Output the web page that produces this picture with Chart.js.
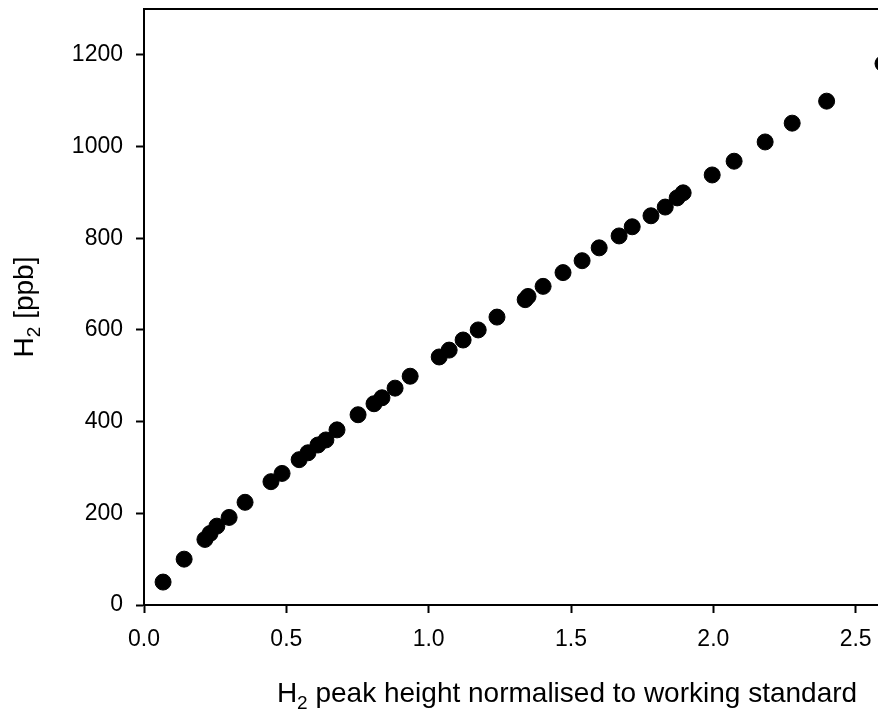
<!DOCTYPE html>
<html>
<head>
<meta charset="utf-8">
<script src="https://cdn.jsdelivr.net/npm/chart.js@4.4.1/dist/chart.umd.min.js"></script>
<style>
  html, body { margin: 0; padding: 0; overflow: hidden; background: #fff; }
  #wrap { width: 1100px; height: 709px; }
</style>
</head>
<body>
<div id="wrap"><canvas id="chart" width="1100" height="709"></canvas></div>
<script>
// normalised H2 peak height vs. H2 mixing ratio
const peakHeight = [
  0.067, 0.141, 0.214, 0.232, 0.256, 0.299, 0.355, 0.446, 0.485, 0.545,
  0.576, 0.611, 0.639, 0.678, 0.752, 0.808, 0.836, 0.882, 0.935, 1.037,
  1.072, 1.121, 1.174, 1.240, 1.339, 1.349, 1.402, 1.472, 1.539, 1.599,
  1.669, 1.715, 1.781, 1.831, 1.873, 1.894, 1.996, 2.073, 2.182, 2.277,
  2.398, 2.596
];
const h2ppb = [
  50, 100, 143, 156, 172, 191, 224, 269, 287, 317,
  332, 349, 360, 382, 415, 439, 452, 473, 499, 541,
  556, 578, 600, 628, 666, 673, 695, 725, 751, 779,
  805, 825, 849, 868, 888, 899, 938, 968, 1010, 1051,
  1099, 1181
];
const xTitleRest = ' peak height normalised to working standard';
const yTitleRest = ' [ppb]';

const FONT = '"Liberation Sans", Arial, sans-serif';

// draws top frame line and the two axis titles (with subscript 2)
const framePlugin = {
  id: 'frame',
  afterDraw(chart) {
    const ctx = chart.ctx;
    const a = chart.chartArea;
    ctx.save();
    ctx.strokeStyle = '#000';
    ctx.lineWidth = 2;
    ctx.beginPath();
    ctx.moveTo(a.left - 1, a.top);
    ctx.lineTo(a.right, a.top);
    ctx.stroke();

    const drawTitle = (rest) => {
      ctx.font = '28px ' + FONT;
      const wH = ctx.measureText('H').width;
      const wRest = ctx.measureText(rest).width;
      ctx.font = '19px ' + FONT;
      const wSub = ctx.measureText('2').width;
      const total = wH + wSub + wRest;
      let x = -total / 2;
      ctx.textBaseline = 'alphabetic';
      ctx.textAlign = 'left';
      ctx.font = '28px ' + FONT;
      ctx.fillText('H', x, 0);
      x += wH;
      ctx.font = '19px ' + FONT;
      ctx.fillText('2', x, 7);
      x += wSub;
      ctx.font = '28px ' + FONT;
      ctx.fillText(rest, x, 0);
    };

    ctx.fillStyle = '#000';
    ctx.save();
    ctx.translate((a.left + a.right) / 2 - 4, 702);
    drawTitle(xTitleRest);
    ctx.restore();

    ctx.save();
    ctx.translate(33, (a.top + a.bottom) / 2);
    ctx.rotate(-Math.PI / 2);
    drawTitle(yTitleRest);
    ctx.restore();
    ctx.restore();
  }
};

new Chart(document.getElementById('chart'), {
  type: 'scatter',
  data: {
    datasets: [{
      data: peakHeight.map((x, i) => ({ x: x, y: h2ppb[i] })),
      backgroundColor: '#000',
      borderColor: '#000',
      pointRadius: 8,
      pointHoverRadius: 8
    }]
  },
  options: {
    responsive: false,
    animation: false,
    layout: { padding: { left: 0, top: 7, right: 102, bottom: 0 } },
    plugins: { legend: { display: false }, tooltip: { enabled: false } },
    scales: {
      x: {
        type: 'linear',
        min: 0,
        max: 3,
        afterFit: (s) => { s.height = 104; s.paddingLeft = 0; s.paddingRight = 0; },
        grid: { drawOnChartArea: false, drawTicks: true, tickLength: 8, tickWidth: 2, tickColor: '#000' },
        border: { display: true, color: '#000', width: 2 },
        ticks: {
          stepSize: 0.5,
          padding: 13,
          color: '#000',
          font: { family: FONT, size: 23 },
          maxRotation: 0,
          callback: (v) => v.toFixed(1)
        }
      },
      y: {
        min: 0,
        max: 1300,
        afterFit: (s) => { s.width = 144; s.paddingTop = 0; s.paddingBottom = 0; },
        afterBuildTicks: (s) => { s.ticks = s.ticks.filter(t => t.value <= 1200); },
        grid: { drawOnChartArea: false, drawTicks: true, tickLength: 8, tickWidth: 2, tickColor: '#000' },
        border: { display: true, color: '#000', width: 2 },
        ticks: {
          stepSize: 200,
          padding: 13,
          color: '#000',
          font: { family: FONT, size: 23 },
          callback: (v) => String(v)
        }
      }
    }
  },
  plugins: [framePlugin]
});
</script>
</body>
</html>
